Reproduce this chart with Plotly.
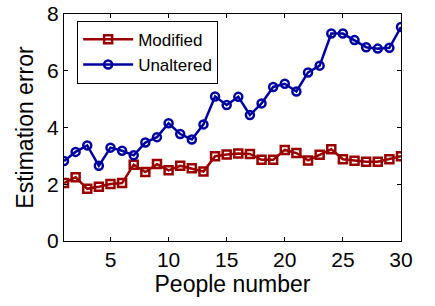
import plotly.graph_objects as go

people = list(range(1, 31))
modified = [2.04, 2.25, 1.84, 1.91, 2.01, 2.04, 2.69, 2.43, 2.71, 2.49,
            2.65, 2.56, 2.45, 2.99, 3.05, 3.08, 3.07, 2.86, 2.86, 3.21,
            3.10, 2.84, 3.04, 3.23, 2.88, 2.83, 2.79, 2.79, 2.88, 2.99]
unaltered = [2.82, 3.14, 3.37, 2.65, 3.29, 3.18, 3.02, 3.47, 3.66, 4.15,
             3.77, 3.58, 4.11, 5.09, 4.79, 5.08, 4.44, 4.85, 5.43, 5.54,
             5.27, 5.94, 6.18, 7.31, 7.31, 7.08, 6.83, 6.78, 6.81, 7.54]
x_ticks = [5, 10, 15, 20, 25, 30]
y_ticks = [0, 2, 4, 6, 8]

red = "#990000"
blue = "#0000A0"
fam = "Liberation Sans, Arial, sans-serif"

fig = go.Figure()
fig.add_trace(go.Scatter(
    x=people, y=modified, name="Modified", mode="lines+markers",
    line=dict(color=red, width=2.5),
    marker=dict(symbol="square-open", size=8, color=red, line=dict(width=2.5, color=red)),
))
fig.add_trace(go.Scatter(
    x=people, y=unaltered, name="Unaltered", mode="lines+markers",
    line=dict(color=blue, width=2.5),
    marker=dict(symbol="circle-open", size=8, color=blue, line=dict(width=2.5, color=blue)),
))

axis_common = dict(
    showline=True, linecolor="black", linewidth=1, mirror="ticks",
    ticks="inside", ticklen=4, tickcolor="black", showgrid=False, zeroline=False,
    automargin=False,
    tickfont=dict(family=fam, size=21, color="black"),
)

fig.update_layout(
    width=435, height=306,
    margin=dict(l=64, r=34, t=14, b=65),
    paper_bgcolor="white", plot_bgcolor="white",
    font=dict(family=fam, color="black"),
    xaxis=dict(range=[1, 30], tickvals=x_ticks,
               title=dict(text="People number", font=dict(size=23), standoff=0),
               ticklabelstandoff=0,
               **axis_common),
    yaxis=dict(range=[0, 8], tickvals=y_ticks,
               title=dict(text="Estimation error", font=dict(size=23), standoff=7),
               ticklabelstandoff=0,
               **axis_common),
    legend=dict(x=0.039, y=0.97, xanchor="left", yanchor="top",
                bordercolor="black", borderwidth=1, bgcolor="white",
                font=dict(size=17, family=fam), itemwidth=50, tracegroupgap=0),
    showlegend=True,
)

fig.write_html("out.html", config={"displayModeBar": False},
               post_script="document.body.style.margin='0';")
